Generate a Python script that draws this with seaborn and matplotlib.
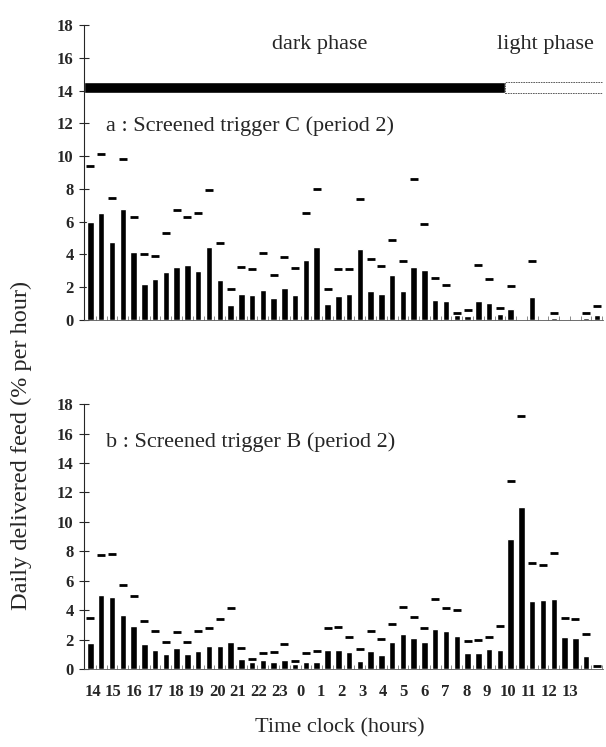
import numpy as np
import pandas as pd
import seaborn as sns
import matplotlib.pyplot as plt

# half-hour slots from 14:00 to 13:30
hours = [14, 15, 16, 17, 18, 19, 20, 21, 22, 23, 0, 1, 2, 3, 4, 5, 6, 7, 8, 9, 10, 11, 12, 13]
slots = ['%d:%s' % (h, m) for h in hours for m in ('00', '30')]

# a : screened trigger C (period 2) - mean and mean + SD
feed_c = [6.0, 6.55, 4.75, 6.8, 4.15, 2.2, 2.5, 2.93, 3.26, 3.34, 3.0, 4.48,
          2.46, 0.9, 1.6, 1.53, 1.81, 1.34, 1.98, 1.53, 3.67, 4.48, 0.96, 1.49,
          1.6, 4.36, 1.77, 1.6, 2.73, 1.77, 3.26, 3.05, 1.22, 1.14, 0.3, 0.25,
          1.18, 1.04, 0.37, 0.67, 0.06, 1.43, 0.06, 0.14, 0.06, 0.06, 0.14, 0.3]
upper_c = [9.4, 10.1, 7.43, 9.8, 6.27, 4.05, 3.9, 5.3, 6.7, 6.27, 6.5, 7.96,
           4.7, 1.9, 3.24, 3.1, 4.07, 2.75, 3.83, 3.16, 6.5, 8.0, 1.87, 3.14,
           3.1, 7.4, 3.7, 3.3, 4.9, 3.63, 8.6, 5.85, 2.59, 2.12, 0.45, 0.6,
           3.36, 2.5, 0.75, 2.08, np.nan, 3.58, np.nan, 0.45, np.nan, np.nan, 0.43, 0.86]

# b : screened trigger B (period 2)
feed_b = [1.8, 5.05, 4.86, 3.64, 2.89, 1.7, 1.32, 1.0, 1.41, 1.0, 1.25, 1.55,
          1.55, 1.82, 0.7, 0.45, 0.6, 0.48, 0.6, 0.35, 0.45, 0.5, 1.32, 1.32,
          1.16, 0.57, 1.23, 0.95, 1.86, 2.39, 2.11, 1.86, 2.7, 2.55, 2.23, 1.07,
          1.11, 1.34, 1.3, 8.86, 10.98, 4.64, 4.7, 4.75, 2.18, 2.11, 0.91, 0.08]
upper_b = [3.45, 7.75, 7.84, 5.68, 4.95, 3.23, 2.55, 1.86, 2.5, 1.82, 2.57, 2.82,
           3.39, 4.16, 1.45, 0.7, 1.09, 1.16, 1.73, 0.55, 1.09, 1.25, 2.82, 2.86,
           2.18, 1.34, 2.55, 2.07, 3.05, 4.23, 3.52, 2.82, 4.78, 4.18, 3.98, 1.91,
           1.98, 2.16, 2.89, 12.8, 17.2, 7.23, 7.07, 7.89, 3.45, 3.41, 2.39, 0.2]

# light phase starts at slot index 39 (9:30)
light_start = 39

df_c = pd.DataFrame({'slot': slots, 'feed': feed_c, 'upper': upper_c})
df_b = pd.DataFrame({'slot': slots, 'feed': feed_b, 'upper': upper_b})

sns.set_style('ticks')
plt.rcParams['font.family'] = ['Liberation Serif', 'DejaVu Serif']

fig = plt.figure(figsize=(6.06, 7.47), dpi=100)
ax1 = fig.add_axes([0.1386, 0.5716, 0.857, 0.3949])
ax2 = fig.add_axes([0.1386, 0.1044, 0.857, 0.3546])


def draw_panel(ax, df, label, label_y):
    sns.barplot(data=df, x='slot', y='feed', color='black', width=0.6,
                saturation=1, ax=ax)
    ax.plot(np.arange(len(df)), df['upper'], linestyle='none', marker='_',
            markersize=6, markeredgewidth=2, color='black')
    ax.set_xlim(-0.6, len(df) - 0.4)
    ax.set_ylim(0, 18)
    ax.set_yticks(range(0, 19, 2))
    ax.set_xlabel('')
    ax.set_ylabel('')
    for s in ['top', 'right']:
        ax.spines[s].set_visible(False)
    ax.spines['left'].set_linewidth(0.8)
    ax.spines['bottom'].set_linewidth(0.6)
    ax.spines['bottom'].set_color('#555555')
    ax.tick_params(axis='y', direction='inout', length=7, width=0.8,
                   labelsize=12, pad=4)
    for t in ax.get_yticklabels():
        t.set_fontweight('bold')
    ax.set_xticks(np.arange(len(df)) + 0.5, minor=True)
    ax.tick_params(axis='x', which='minor', direction='in', length=3,
                   width=0.6, color='#777777')
    ax.text(1.45, label_y, label, fontsize=16, va='center', ha='left')


draw_panel(ax1, df_c, 'a : Screened trigger C (period 2)', 11.85)
draw_panel(ax2, df_b, 'b : Screened trigger B (period 2)', 15.45)

# dark / light phase bar
n = len(slots)
ax1.barh(14.2, light_start - 0.5 + 0.6, left=-0.6, height=0.7, color='black')
ax1.barh(14.2, n - 0.4 - (light_start - 0.5), left=light_start - 0.5, height=0.7,
         color='white', edgecolor='#444444', linewidth=0.6, linestyle=(0, (2, 1)))
ax1.text(21.3, 16.8, 'dark phase', fontsize=16, ha='center', va='center')
ax1.text(42.2, 16.8, 'light phase', fontsize=16, ha='center', va='center')

ax1.set_xticks([])
ax1.set_xticks(np.arange(n) + 0.5, minor=True)
ax2.set_xticks(np.linspace(0.2, 44.5, len(hours)))
ax2.set_xticklabels([str(h) for h in hours], fontsize=12, fontweight='bold')
ax2.tick_params(axis='x', which='major', length=0, pad=11)

fig.text(0.036, 0.404, 'Daily delivered feed (% per hour)', rotation=90,
         fontsize=17.5, ha='center', va='center')
fig.text(0.56, 0.025, 'Time clock (hours)', fontsize=16, ha='center',
         va='center')

fig.savefig('out.png', dpi=100)
